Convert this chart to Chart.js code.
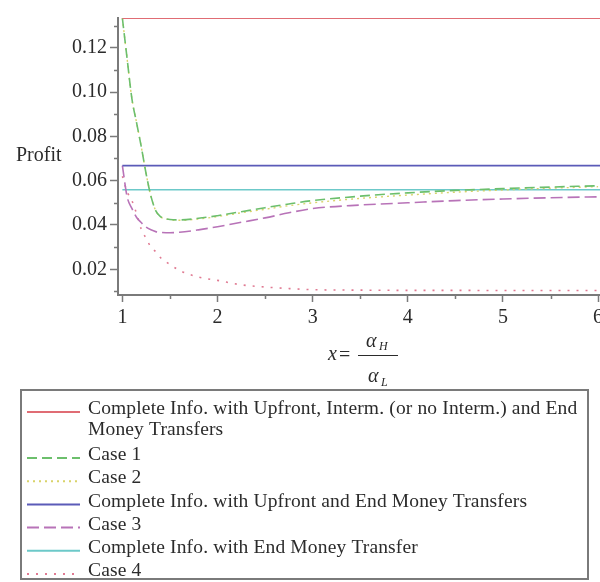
<!DOCTYPE html>
<html>
<head>
<meta charset="utf-8">
<script src="https://cdn.jsdelivr.net/npm/chart.js@4/dist/chart.umd.min.js"></script>
<style>
  html, body { margin: 0; padding: 0; background: #fff; }
  #wrap { width: 600px; height: 582px; }
</style>
</head>
<body>
<div id="wrap"><canvas id="c" width="600" height="582"></canvas></div>
<script>
// Ratio x = alpha_H / alpha_L at which each profit curve is sampled
const xValues = [1, 1.05, 1.1, 1.15, 1.2, 1.25, 1.3, 1.35, 1.4, 1.5, 1.6, 1.8, 2, 2.25, 2.5, 2.75, 3, 3.5, 4, 4.5, 5, 5.5, 6];

// Profit under each information / transfer regime
const case1 = [0.1333, 0.115, 0.097, 0.086, 0.075, 0.063, 0.053, 0.0465, 0.0438, 0.0425, 0.0423, 0.0430, 0.0442, 0.0460, 0.0478, 0.0495, 0.0510, 0.0530, 0.0545, 0.0556, 0.0564, 0.0571, 0.0577];
const case2 = [0.1333, 0.115, 0.097, 0.086, 0.075, 0.063, 0.053, 0.0465, 0.0437, 0.0424, 0.0421, 0.0427, 0.0438, 0.0455, 0.0471, 0.0487, 0.0500, 0.0520, 0.0535, 0.0548, 0.0558, 0.0566, 0.0573];
const case3 = [0.0668, 0.0527, 0.0475, 0.0434, 0.0410, 0.0390, 0.0378, 0.0370, 0.0367, 0.0365, 0.0367, 0.0378, 0.0392, 0.0412, 0.0432, 0.0455, 0.0474, 0.0490, 0.0500, 0.0510, 0.0517, 0.0523, 0.0527];
const case4 = [0.062, 0.055, 0.051, 0.045, 0.038, 0.034, 0.030, 0.028, 0.0253, 0.0222, 0.0195, 0.0165, 0.0150, 0.0130, 0.0120, 0.0113, 0.0108, 0.0106, 0.0105, 0.0105, 0.0104, 0.0104, 0.0104];

// Benchmarks with complete information (constant in x)
const fullTransfers = 0.1333;
const upfrontAndEnd = 0.0668;
const endOnly = 0.0559;

// Axis ticks
const xTicks = [1, 2, 3, 4, 5, 6];
const xMinorTicks = [1.5, 2.5, 3.5, 4.5, 5.5];
const yTicks = [0.02, 0.04, 0.06, 0.08, 0.10, 0.12];
const yMinorTicks = [0.01, 0.03, 0.05, 0.07, 0.09, 0.11, 0.13];

const X_MIN = 0.954, X_MAX = 6.02;

const SERIF = '"Liberation Serif", "Times New Roman", serif';
const TEXT = '#2b2b2b';
const AXIS = '#7a7a7a';

const pts = arr => xValues.map((x, i) => ({ x, y: arr[i] }));
const flat = v => [{ x: xValues[0], y: v }, { x: X_MAX, y: v }];

const datasets = [
  { label: 'Complete Info. with Upfront, Interm. (or no Interm.) and End Money Transfers',
    data: flat(fullTransfers), borderColor: '#e06c74', borderWidth: 1.6, borderDash: [] },
  { label: 'Case 1', data: pts(case1), borderColor: '#6cbf6c', borderWidth: 1.6, borderDash: [10, 5] },
  { label: 'Case 2', data: pts(case2), borderColor: '#d9d36a', borderWidth: 1.4, borderDash: [2, 4] },
  { label: 'Complete Info. with Upfront and End Money Transfers',
    data: flat(upfrontAndEnd), borderColor: '#5b5bb8', borderWidth: 1.6, borderDash: [] },
  { label: 'Case 3', data: pts(case3), borderColor: '#b873b8', borderWidth: 1.6, borderDash: [12, 5] },
  { label: 'Complete Info. with End Money Transfer',
    data: flat(endOnly), borderColor: '#6cc9c9', borderWidth: 1.6, borderDash: [] },
  { label: 'Case 4', data: pts(case4), borderColor: '#e07a92', borderWidth: 1.6, borderDash: [2, 7] }
].map(d => Object.assign(d, { pointRadius: 0, fill: false, tension: 0.4, cubicInterpolationMode: 'monotone' }));

// Minor ticks, the y label, the fraction-style x title and the boxed legend
const decorations = {
  id: 'decorations',
  afterDraw(chart) {
    const ctx = chart.ctx;
    const xs = chart.scales.x, ys = chart.scales.y;
    const area = chart.chartArea;
    ctx.save();

    // minor ticks
    ctx.strokeStyle = AXIS;
    ctx.lineWidth = 1.5;
    ctx.beginPath();
    xMinorTicks.forEach(v => {
      const px = Math.round(xs.getPixelForValue(v)) + 0.5;
      ctx.moveTo(px, area.bottom); ctx.lineTo(px, area.bottom + 4);
    });
    yMinorTicks.forEach(v => {
      const py = Math.round(ys.getPixelForValue(v)) + 0.5;
      ctx.moveTo(area.left, py); ctx.lineTo(area.left - 4, py);
    });
    ctx.stroke();

    // y label
    ctx.fillStyle = TEXT;
    ctx.font = '20px ' + SERIF;
    ctx.textBaseline = 'middle';
    ctx.textAlign = 'left';
    ctx.fillText('Profit', 16, 156);

    // x title: x = alpha_H / alpha_L
    const cx = (area.left + area.right) / 2;
    const barY = 355;
    ctx.font = 'italic 20px ' + SERIF;
    ctx.textBaseline = 'alphabetic';
    ctx.textAlign = 'left';
    ctx.fillText('x', cx - 31, barY + 5);
    ctx.font = '20px ' + SERIF;
    ctx.fillText('=', cx - 20, barY + 6);
    ctx.strokeStyle = TEXT;
    ctx.lineWidth = 1;
    ctx.beginPath();
    ctx.moveTo(cx - 1, barY + 0.5); ctx.lineTo(cx + 39, barY + 0.5);
    ctx.stroke();
    ctx.font = 'italic 20px ' + SERIF;
    ctx.fillText('α', cx + 7, barY - 8);
    ctx.fillText('α', cx + 9, barY + 27);
    ctx.font = 'italic 12px ' + SERIF;
    ctx.fillText('H', cx + 20, barY - 5);
    ctx.fillText('L', cx + 22, barY + 31);

    // legend box
    const box = { left: 21, top: 390, right: 588, bottom: 579 };
    ctx.strokeStyle = AXIS;
    ctx.lineWidth = 2;
    ctx.strokeRect(box.left, box.top, box.right - box.left, box.bottom - box.top);

    ctx.font = '19.5px ' + SERIF;
    ctx.letterSpacing = '0.15px';
    ctx.textBaseline = 'middle';
    const textX = 88, maxW = box.right - textX - 6;
    let y = 409;
    chart.data.datasets.forEach(ds => {
      // wrap long labels
      const words = ds.label.split(' ');
      const lines = [];
      let cur = '';
      words.forEach(w => {
        const trial = cur ? cur + ' ' + w : w;
        if (ctx.measureText(trial).width > maxW && cur) { lines.push(cur); cur = w; }
        else cur = trial;
      });
      lines.push(cur);

      ctx.strokeStyle = ds.borderColor;
      ctx.lineWidth = 2;
      ctx.setLineDash(ds.borderDash);
      ctx.beginPath();
      ctx.moveTo(27, y + 3); ctx.lineTo(80, y + 3);
      ctx.stroke();
      ctx.setLineDash([]);

      ctx.fillStyle = TEXT;
      lines.forEach((ln, i) => ctx.fillText(ln, textX, y + i * 21));
      y += 23.2 + (lines.length - 1) * 22.8;
    });
    ctx.restore();
  }
};

new Chart(document.getElementById('c'), {
  type: 'line',
  data: { datasets },
  options: {
    responsive: false,
    animation: false,
    layout: { padding: { top: 18, right: 0, left: 0, bottom: 257 } },
    plugins: { legend: { display: false }, tooltip: { enabled: false } },
    scales: {
      x: {
        type: 'linear', min: X_MIN, max: X_MAX,
        afterBuildTicks: s => { s.ticks = xTicks.map(v => ({ value: v })); },
        afterFit: s => { s.height = 30; s.paddingRight = 0; s.paddingLeft = 0; },
        ticks: { color: TEXT, font: { family: SERIF, size: 20 }, padding: 4, maxRotation: 0, autoSkip: false,
                 callback: v => String(v) },
        grid: { drawOnChartArea: false, tickLength: 7, color: AXIS, tickWidth: 1.5 },
        border: { color: AXIS, width: 2 }
      },
      y: {
        type: 'linear', min: 0.0084, max: 0.1334,
        afterBuildTicks: s => { s.ticks = yTicks.map(v => ({ value: v })); },
        afterFit: s => { s.width = 118; s.paddingTop = 0; s.paddingBottom = 0; },
        ticks: { color: TEXT, font: { family: SERIF, size: 20 }, padding: 3, autoSkip: false,
                 callback: v => v.toFixed(2) },
        grid: { drawOnChartArea: false, tickLength: 8, color: AXIS, tickWidth: 1.5 },
        border: { color: AXIS, width: 2 }
      }
    }
  },
  plugins: [decorations]
});
</script>
</body>
</html>
